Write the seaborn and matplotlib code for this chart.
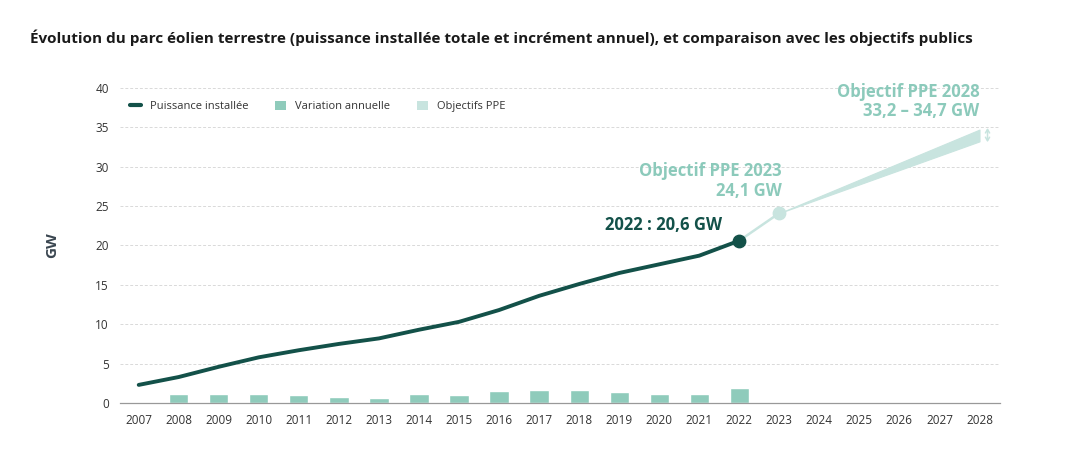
import matplotlib
matplotlib.use("Agg")
import matplotlib.pyplot as plt
from matplotlib.lines import Line2D
from matplotlib.patches import Patch
import pandas as pd
import seaborn as sns

# data
years = list(range(2007, 2023))
installed = [2.3, 3.3, 4.6, 5.8, 6.7, 7.5, 8.2, 9.3, 10.3, 11.8, 13.6, 15.1, 16.5, 17.6, 18.7, 20.6]
bar_years = list(range(2008, 2023))
annual_var = [1.1, 1.2, 1.2, 1.0, 0.8, 0.6, 1.1, 1.0, 1.5, 1.7, 1.6, 1.4, 1.1, 1.1, 1.9]
target_years = [2023, 2028]
target_low = [24.1, 33.2]
target_high = [24.1, 34.7]
all_years = list(range(2007, 2029))

DARK = "#135149"
BAR = "#8fcbbb"
LIGHT = "#c8e4df"
TXT_LIGHT = "#8ccabb"

sns.set_style("white")
plt.rcParams["font.family"] = ["Open Sans", "DejaVu Sans"]

fig = plt.figure(figsize=(10.9, 4.67), dpi=100)
ax = fig.add_axes([0.110, 0.137, 0.807, 0.675])

df_bar = pd.DataFrame({"year": bar_years, "var": annual_var})
sns.barplot(data=df_bar, x="year", y="var", native_scale=True, color=BAR,
            width=0.48, saturation=1, ax=ax, zorder=2)

df_line = pd.DataFrame({"year": years, "gw": installed})
sns.lineplot(data=df_line, x="year", y="gw", color=DARK, linewidth=2.8, ax=ax, zorder=4)

# link 2022 -> 2023 target
sns.lineplot(x=[years[-1], target_years[0]], y=[installed[-1], target_low[0]],
             color=LIGHT, linewidth=1.8, ax=ax, zorder=3)
ax.fill_between(target_years, target_low, target_high, color=LIGHT, linewidth=0.8,
                edgecolor=LIGHT, zorder=3)
ax.scatter([target_years[0]], [target_low[0]], s=80, color=LIGHT, zorder=5)
ax.scatter([years[-1]], [installed[-1]], s=80, color=DARK, zorder=5)

ax.annotate("2022 : 20,6 GW", xy=(years[-1], installed[-1]), xytext=(-12, 11),
            textcoords="offset points", ha="right", va="center",
            fontsize=12, fontweight="bold", color=DARK)
ax.annotate("Objectif PPE 2023\n24,1 GW", xy=(target_years[0], target_low[0]),
            xytext=(2, 23), textcoords="offset points", ha="right", va="center",
            multialignment="right", fontsize=12, fontweight="bold", color=TXT_LIGHT,
            linespacing=1.1)
ax.annotate("Objectif PPE 2028\n33,2 – 34,7 GW", xy=(target_years[1], target_high[1]),
            xytext=(0, 20), textcoords="offset points", ha="right", va="center",
            multialignment="right", fontsize=12, fontweight="bold", color=TXT_LIGHT,
            linespacing=1.1, annotation_clip=False)
ax.annotate("", xy=(target_years[1] + 0.2, target_high[1] + 0.2),
            xytext=(target_years[1] + 0.2, target_low[1] - 0.1),
            arrowprops=dict(arrowstyle="<->,head_length=0.25,head_width=0.15", color=LIGHT,
                            lw=1.1, shrinkA=0, shrinkB=0),
            annotation_clip=False)

ax.set_xlim(2006.53, 2028.5)
ax.set_ylim(0, 40)
ax.set_xticks(all_years)
ax.set_xticklabels([str(y) for y in all_years])
ax.set_yticks(range(0, 41, 5))
ax.tick_params(axis="both", length=0, labelsize=8.5, colors="#333333", pad=8)
ax.grid(axis="y", linestyle=(0, (3, 2)), color="#d9d9d9", linewidth=0.7, zorder=0)
ax.set_axisbelow(True)
for side in ["top", "right", "left"]:
    ax.spines[side].set_visible(False)
ax.spines["bottom"].set_color("#999999")
ax.spines["bottom"].set_linewidth(0.9)

ax.set_xlabel("")
ax.set_ylabel("GW", fontsize=11, fontweight="bold", color="#3a4650", labelpad=26)

handles = [
    Line2D([0], [0], color=DARK, linewidth=3),
    Patch(facecolor=BAR, edgecolor="none"),
    Patch(facecolor=LIGHT, edgecolor="none"),
]
labels = ["Puissance installée", "Variation annuelle", "Objectifs PPE"]
ax.legend(handles, labels, loc="center left", bbox_to_anchor=(0.0, 0.94), ncol=3,
          frameon=False, fontsize=8, handlelength=1.0, handleheight=0.9,
          columnspacing=2.4, handletextpad=0.8, labelcolor="#333333")

fig.text(0.0275, 0.919, "Évolution du parc éolien terrestre (puissance installée totale et incrément annuel), "
         "et comparaison avec les objectifs publics",
         fontsize=11, fontweight="bold", color="#1a1a1a", va="center", ha="left")

fig.savefig("out.png", dpi=100)
